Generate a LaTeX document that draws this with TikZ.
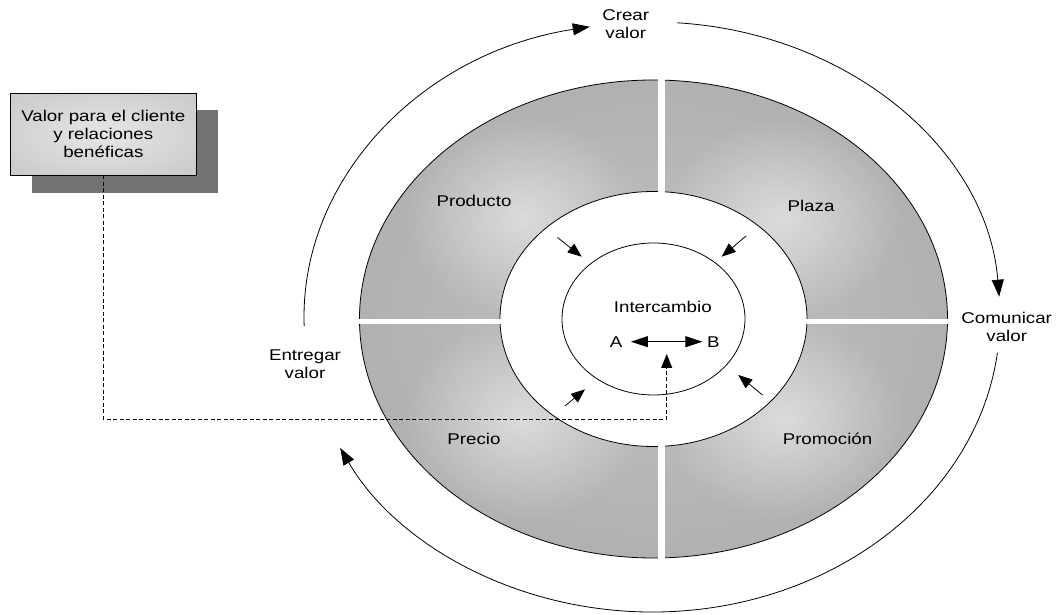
\documentclass[tikz,border=0pt]{standalone}
\usepackage{fontspec}
\setmainfont{Liberation Sans}[FakeStretch=1.2]
\usetikzlibrary{arrows.meta,calc,fadings}

\definecolor{ringC}{HTML}{C2C2C2}
\definecolor{ringM}{HTML}{B0B0B0}
\definecolor{ringQ}{HTML}{8A8A8A}
\definecolor{ringD}{HTML}{5E5E5E}
\definecolor{boxC}{HTML}{E6E6E6}
\definecolor{boxE}{HTML}{BDBDBD}
\definecolor{shadowgray}{HTML}{727272}

% ring body: light next to the white band, dark at the rim
\pgfdeclareradialshading{ringbase}{\pgfpointorigin}{color(0bp)=(ringC); color(26bp)=(ringM); color(40bp)=(ringQ); color(50bp)=(ringD); color(100bp)=(ringD)}
% label box: light centre, grey edges
\pgfdeclareradialshading{boxshade}{\pgfpointorigin}{color(0bp)=(boxC); color(50bp)=(boxE); color(100bp)=(boxE)}
% soft highlight in each quarter of the ring
\tikzfading[name=glow, inner color=transparent!0, outer color=transparent!100]

\tikzset{
  lbl/.style={font=\fontsize{15.6}{18}\selectfont, inner sep=0pt, align=center},
  bigarr/.style={line width=0.8pt, -{Triangle[length=17pt,width=12pt]}},
  smallarr/.style={line width=0.8pt, -{Triangle[length=14pt,width=11pt]}},
  abarr/.style={line width=0.8pt, {Triangle[length=17pt,width=11pt]}-{Triangle[length=17pt,width=11pt]}},
  dashconn/.style={line width=0.8pt, dash pattern=on 4pt off 2.5pt, -{Triangle[length=14pt,width=11pt]}},
  rim/.style={line width=0.8pt},
  glowspot/.style={white, opacity=0.5, path fading=glow},
}

\begin{document}
\begin{tikzpicture}[x=1pt,y=1pt]
\useasboundingbox (0,0) rectangle (1061,615);

\coordinate (ctr) at (653.5,296);
\coordinate (bigc) at (652,298);

% ---- box with drop shadow ----
\fill[shadowgray] (31.7,421.7) rectangle (218.3,505);
\node[lbl, draw, line width=0.9pt, shade, shading=boxshade,
      minimum width=185.3pt, minimum height=81.7pt] (box) at (103.35,480.85)
  {Valor para el cliente\\ y relaciones\\ benéficas};

% ---- shaded ring ----
\shade[shading=ringbase] (ctr) ellipse [x radius=294, y radius=239];
\begin{scope}
  \clip (ctr) ellipse [x radius=294, y radius=239];
  \fill[glowspot] (522,398) ellipse [x radius=120, y radius=100];
  \fill[glowspot] (782,396) ellipse [x radius=120, y radius=100];
  \fill[glowspot] (522,196) ellipse [x radius=120, y radius=100];
  \fill[glowspot] (784,196) ellipse [x radius=120, y radius=100];
\end{scope}
\draw[rim] (ctr) ellipse [x radius=294, y radius=239];
\filldraw[rim, fill=white] (ctr) ellipse [x radius=153.5, y radius=127.5];

% white gaps between the four quarters
\fill[white] (657.5,53) rectangle (664.5,539);
\fill[white] (355,290.5) rectangle (951,295.5);

% inner circle
\filldraw[rim, fill=white] (ctr) ellipse [x radius=91.5, y radius=76];

% ---- quarter labels ----
\node[lbl] (producto) at (474,414) {Producto};
\node[lbl] (plaza) at (811,409) {Plaza};
\node[lbl] (precio) at (474,176.4) {Precio};
\node[lbl] (promo) at (827.5,176.4) {Promoción};

% ---- centre ----
\node[lbl] (inter) at (662.8,308) {Intercambio};
\node[lbl] (A) at (616,273.3) {A};
\node[lbl] (B) at (713.3,273.3) {B};
\draw[abarr] ([xshift=8.5pt]A.east) -- ([xshift=-4.5pt]B.west);

% four arrows pointing at the exchange
\coordinate (s1) at (557.5,377.5); \coordinate (t1) at (581.7,358.3);
\coordinate (s2) at (746,379);     \coordinate (t2) at (721.7,358.3);
\coordinate (s3) at (565,209);     \coordinate (t3) at (585,225.7);
\coordinate (s4) at (762.5,220);   \coordinate (t4) at (738.3,240);
\draw[smallarr] (s1) -- (t1);
\draw[smallarr] (s2) -- (t2);
\draw[smallarr] (s3) -- (t3);
\draw[smallarr] (s4) -- (t4);

% ---- outer cycle ----
\node[lbl] (crear) at (625.7,591) {Crear\\ valor};
\node[lbl] (comunicar) at (1006.7,288) {Comunicar\\ valor};
\node[lbl] (entregar) at (305,250.3) {Entregar\\ valor};

\coordinate (e1) at ($(bigc)+(181.75:348 and 295)$);
\coordinate (e2) at ($(bigc)+(85.8:348 and 295)$);
\coordinate (e3) at ($(bigc)+(-7:348 and 295)$);
\draw[bigarr] (e1) arc[start angle=181.75, end angle=100.3, x radius=348, y radius=295];
\draw[bigarr] (e2) arc[start angle=85.8, end angle=3.95, x radius=348, y radius=295];
\draw[bigarr] (e3) arc[start angle=-7, end angle=-153.65, x radius=348, y radius=295];

% ---- dashed link from the box to the exchange ----
\coordinate (bend) at (666.7,195.7);
\coordinate (xa) at (666.7,261);
\draw[dashconn] (box.south) |- (bend) -- (xa);
\end{tikzpicture}
\end{document}
